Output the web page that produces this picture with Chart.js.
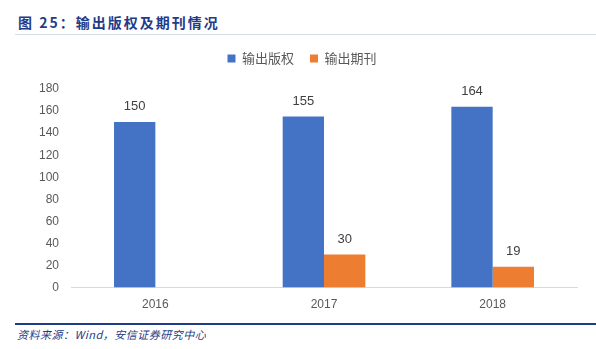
<!DOCTYPE html>
<html>
<head>
<meta charset="utf-8">
<script src="https://cdn.jsdelivr.net/npm/chart.js@4"></script>
<style>
  body { margin: 0; width: 596px; height: 349px; background: #fff; position: relative; overflow: hidden; }
  #title { position: absolute; left: 18px; top: 12px; font-family: "Noto Sans CJK SC", sans-serif; font-weight: bold; font-size: 14px; color: #1F3C88; letter-spacing: 2px; }
  #topline { position: absolute; left: 15px; right: 0; top: 34px; height: 1px; background: #D6DCE8; }
  #wrap { position: absolute; left: 0; top: 36px; width: 596px; height: 286px; }
  #bottomline { position: absolute; left: 15px; right: 0; top: 323px; height: 2px; background: #1F3C88; }
  #source { position: absolute; left: 17px; top: 326px; font-family: "Noto Sans CJK SC", sans-serif; font-style: italic; font-size: 11px; color: #1F3C88; letter-spacing: 0.5px; }
</style>
</head>
<body>
<div id="title">图 25：输出版权及期刊情况</div>
<div id="topline"></div>
<div id="wrap"><canvas id="myChart"></canvas></div>
<div id="bottomline"></div>
<div id="source">资料来源：Wind，安信证券研究中心</div>
<script>
var years = ['2016', '2017', '2018']
var copyright = [150, 155, 164]
var journals = [null, 30, 19]
var yTicks = [0, 20, 40, 60, 80, 100, 120, 140, 160, 180]

//draw the value above each bar
var barLabels = {
    id: 'barLabels',
    afterDatasetsDraw: function(chart) {
        var ctx = chart.ctx
        ctx.save()
        ctx.font = '13px "Liberation Sans", Arial, sans-serif'
        ctx.fillStyle = '#404040'
        ctx.textAlign = 'center'
        ctx.textBaseline = 'bottom'
        chart.data.datasets.forEach(function(ds, i) {
            chart.getDatasetMeta(i).data.forEach(function(bar, j) {
                if (ds.data[j] == null) return
                ctx.fillText(ds.data[j], bar.x, bar.y - 9)
            })
        })
        ctx.restore()
    }
}

//more room under the legend
var legendGap = {
    id: 'legendGap',
    beforeInit: function(chart) {
        var fit = chart.legend.fit
        chart.legend.fit = function() {
            fit.bind(chart.legend)()
            this.height += 14
        }
    }
}

var chart = new Chart(document.getElementById('myChart').getContext('2d'), {
    type: 'bar',
    data: {
        labels: years,
        datasets: [
            { label: '输出版权', data: copyright, backgroundColor: '#4472C4' },
            { label: '输出期刊', data: journals, backgroundColor: '#ED7D31' }
        ]
    },
    options: {
        responsive: true,
        maintainAspectRatio: false,
        animation: false,
        categoryPercentage: 0.49,
        barPercentage: 1.0,
        layout: { padding: { left: 27, right: 19, top: 0, bottom: 0 } },
        plugins: {
            legend: {
                position: 'top',
                labels: {
                    boxWidth: 8, boxHeight: 8, padding: 16,
                    color: '#595959',
                    font: { family: '"Noto Sans CJK SC", sans-serif', size: 13 }
                }
            },
            tooltip: { enabled: false }
        },
        scales: {
            x: {
                grid: { display: false, drawTicks: false },
                border: { color: '#D9D9D9' },
                ticks: { color: '#595959', padding: 10, font: { family: '"Liberation Sans", Arial, sans-serif', size: 12 } }
            },
            y: {
                min: 0, max: 180,
                afterBuildTicks: function(axis) { axis.ticks = yTicks.map(function(v) { return { value: v } }) },
                grid: { display: false, drawTicks: false },
                border: { display: false },
                ticks: { color: '#595959', padding: 12, font: { family: '"Liberation Sans", Arial, sans-serif', size: 12 } }
            }
        }
    },
    plugins: [barLabels, legendGap]
})
</script>
</body>
</html>
